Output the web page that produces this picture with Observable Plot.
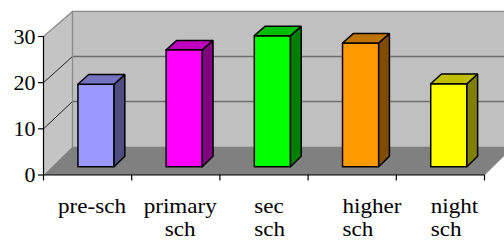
<!DOCTYPE html>
<html><head><meta charset="utf-8">
<script src="https://cdn.jsdelivr.net/npm/d3@7"></script>
<script src="https://cdn.jsdelivr.net/npm/@observablehq/plot@0.6"></script>
<style>html,body{margin:0;padding:0;background:#fff;overflow:hidden}</style>
</head><body><div id="chart"></div>
<script>
const categories = ["pre-sch", "primary sch", "sec sch", "higher sch", "night sch"];
const values = [18, 25.5, 28.6, 27, 18.1];
const frontColors = ["#9999ff", "#ff00ff", "#00ff00", "#ff9900", "#ffff00"];
const topColors = ["#7373bf", "#bf00bf", "#00bf00", "#bf7300", "#bfbf00"];
const sideColors = ["#4d4d80", "#800080", "#008000", "#804d00", "#808000"];
const yTicks = [0, 10, 20, 30];

const W = 504, H = 247;
const mL = 43, mR = 20, mT = 36, mB = 72.5;
const n = categories.length;
const yMax = yTicks[yTicks.length - 1];
const pxPerCat = (W - mL - mR) / n;
const pxPerUnit = (H - mT - mB) / yMax;
const DX = 29 / pxPerCat, DY = 28.5 / pxPerUnit, K = 0.975;
const z0 = 0.29, z1 = 0.66, half = 0.205;
const serif = "'Liberation Serif', 'Times New Roman', serif";

function P(c, v, z) { return {x: c + z * DX, y: v * (1 - (1 - K) * z) + z * DY}; }
function poly(pts, close = true) { const a = pts.map(p => P(...p)); if (close) a.push(a[0]); return a; }
function face(pts, fill, stroke, sw) {
  return Plot.line(poly(pts), {x: "x", y: "y", fill, stroke: stroke || "none", strokeWidth: sw || 1.5, strokeLinejoin: "miter", curve: "linear"});
}
function seg(pts, stroke, sw) {
  return Plot.line(poly(pts, false), {x: "x", y: "y", stroke, strokeWidth: sw, curve: "linear"});
}

const marks = [];
// back wall, left wall, floor
marks.push(face([[0,0,1],[n,0,1],[n,yMax,1],[0,yMax,1]], "#c0c0c0"));
marks.push(face([[0,0,0],[0,0,1],[0,yMax,1],[0,yMax,0]], "#c4c4c4"));
marks.push(face([[0,0,0],[n,0,0],[n,0,1],[0,0,1]], "#808080"));
// gridlines
for (const v of yTicks.slice(1, -1)) {
  marks.push(seg([[0,v,1],[n,v,1]], "#6e6e6e", 1.3));
  marks.push(seg([[0,v,0],[0,v,1]], "#222", 1));
}
// wall edges
marks.push(seg([[0,yMax,0],[0,yMax,1],[n,yMax,1]], "#8a8a8a", 1.3));
marks.push(seg([[0,0,1],[0,yMax,1]], "#8a8a8a", 1.3));
marks.push(seg([[n,0,0],[n,0,1]], "#9a9a9a", 1));
// bars
values.forEach((v, i) => {
  const L = i + 0.5 - half, R = i + 0.5 + half;
  marks.push(face([[L,0,z0],[R,0,z0],[R,v,z0],[L,v,z0]], frontColors[i], "#000"));
  marks.push(face([[R,0,z0],[R,0,z1],[R,v,z1],[R,v,z0]], sideColors[i], "#000"));
  marks.push(face([[L,v,z0],[R,v,z0],[R,v,z1],[L,v,z1]], topColors[i], "#000"));
});
// axes
marks.push(Plot.ruleX([0], {y1: 0, y2: yMax, stroke: "#000", strokeWidth: 1.2}));
marks.push(Plot.ruleY([0], {x1: 0, x2: n, stroke: "#000", strokeWidth: 1.2}));
marks.push(Plot.axisY({ticks: yTicks, tickSize: 5, tickPadding: 3, anchor: "left", label: null, fontSize: 22, fontFamily: serif, strokeWidth: 1.2}));
marks.push(Plot.axisX({ticks: d3.range(n + 1), tickSize: 6, tickFormat: () => "", label: null, anchor: "bottom", strokeWidth: 1.2}));
// category labels
const labels = categories.map((c, i) => ({i, text: c.split(" ").join("\n")}));
marks.push(Plot.text(labels.filter(d => d.i < 2), {x: d => d.i + 0.55, y: () => 0, text: "text", textAnchor: "middle", lineAnchor: "top", dy: 22, fontSize: 21, fontFamily: serif, lineHeight: 1.1, fill: "#000"}));
marks.push(Plot.text(labels.filter(d => d.i >= 2), {x: d => d.i + 0.39, y: () => 0, text: "text", textAnchor: "start", lineAnchor: "top", dy: 22, fontSize: 21, fontFamily: serif, lineHeight: 1.1, fill: "#000"}));

const chart = Plot.plot({
  width: W, height: H,
  marginLeft: mL, marginRight: mR, marginTop: mT, marginBottom: mB,
  x: {type: "linear", domain: [0, n], label: null},
  y: {type: "linear", domain: [0, yMax], label: null},
  style: {fontFamily: serif, fontSize: "21px", color: "#000", background: "#fff", overflow: "hidden"},
  marks
});
document.getElementById("chart").appendChild(chart);
chart.querySelectorAll('g[aria-label="text"] > text').forEach(t => {
  const tr = t.getAttribute("transform");
  if (tr) t.setAttribute("transform", tr + " scale(1.1,1)");
});
</script>
</body></html>
